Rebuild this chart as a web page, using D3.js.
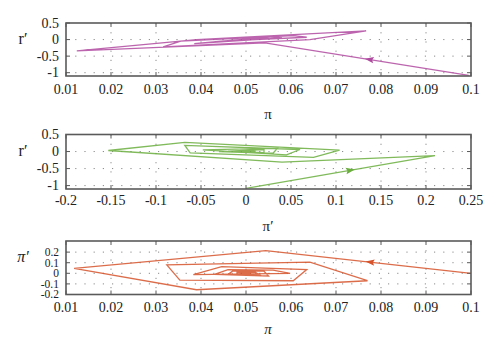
<!DOCTYPE html>
<html><head><meta charset="utf-8">
<script src="https://cdn.jsdelivr.net/npm/d3@7"></script>
<style>body{margin:0;background:#fff}svg{display:block}
text{font-family:"Liberation Serif","Times New Roman",Times,"DejaVu Serif",serif;fill:#222}</style>
</head><body>
<svg id="c" width="500" height="352"></svg>
<script>
// Panel 1: pi vs r'
const p1Pi = [0.0995,0.0542,0.0124,0.039,0.0767,0.0642,0.0316,0.0355,0.0605,0.0635,0.0446,0.0385,0.058,0.056,0.046,0.043,0.055,0.054,0.047,0.046,0.053,0.052,0.048,0.048,0.051,0.05];
const p1R  = [-1.08,-0.1,-0.34,0.0,0.26,0.0,-0.22,-0.05,0.12,0.07,-0.05,-0.12,0.05,0.08,-0.03,-0.06,0.04,0.05,-0.02,-0.03,0.02,0.02,-0.01,-0.01,0.0,0.0];
// Panel 2: pi' vs r'
const p2PiP = [0.0,0.21,0.04,-0.153,-0.068,0.104,0.075,-0.062,-0.068,0.06,0.045,-0.048,0.035,0.03,-0.03,0.02,0.02,-0.02,0.01,0.01,-0.01,0.005,0.0];
const p2R   = [-1.08,-0.12,-0.31,0.03,0.27,0.04,-0.17,-0.04,0.18,0.06,-0.1,0.05,0.1,-0.05,0.0,0.06,-0.03,0.01,0.03,-0.02,0.0,0.01,0.0];
// Panel 3: pi vs pi'
const p3Pi  = [0.1,0.0544,0.0118,0.039,0.077,0.0642,0.0324,0.0353,0.0605,0.0635,0.0446,0.0383,0.0598,0.056,0.046,0.043,0.055,0.054,0.047,0.046,0.053,0.052,0.048,0.048,0.051,0.05];
const p3PiP = [0.0,0.215,0.047,-0.155,-0.07,0.105,0.08,-0.064,-0.07,0.035,0.063,-0.012,0.0,0.03,0.035,-0.01,-0.025,0.02,0.02,-0.01,-0.015,0.01,0.01,-0.005,0.0,0.0];

const xTicks1 = [0.01,0.02,0.03,0.04,0.05,0.06,0.07,0.08,0.09,0.1];
const xTicks2 = [-0.2,-0.15,-0.1,-0.05,0,0.05,0.1,0.15,0.2,0.25];
const yTicksR = [0.5,0,-0.5,-1];
const yTicks3 = [0.2,0.1,0,-0.1,-0.2];

const svg = d3.select("#c");
const X0 = 66, X1 = 471;

const panels = [
  {xs:p1Pi, ys:p1R, xd:[0.01,0.1], yd:[-1.1,0.5], top:23, bot:76, xt:xTicks1, yt:yTicksR, yfs:14,
   color:"#b04aa0", xl:"π", xlItal:false, yl:"r′", ylItal:false, xlY:119, tickY:94, arrowF:0.486},
  {xs:p2PiP, ys:p2R, xd:[-0.2,0.25], yd:[-1.1,0.5], top:134.5, bot:189, xt:xTicks2, yt:yTicksR, yfs:14,
   color:"#6aae3e", xl:"π′", xlItal:false, yl:"r′", ylItal:false, xlY:231, tickY:205, arrowF:0.55},
  {xs:p3Pi, ys:p3PiP, xd:[0.01,0.1], yd:[-0.2,0.305], top:241, bot:294.5, xt:xTicks1, yt:yTicks3, yfs:11.5,
   color:"#d6532b", xl:"π", xlItal:true, yl:"π′", ylItal:true, xlY:334, tickY:312, arrowF:0.49}
];

const fmt = d => (Math.round(d*1000)/1000).toString();

panels.forEach(p => {
  const x = d3.scaleLinear().domain(p.xd).range([X0, X1]);
  const y = d3.scaleLinear().domain(p.yd).range([p.bot, p.top]);
  const g = svg.append("g");
  // grid
  g.selectAll(".gx").data(p.xt.slice(1, -1)).join("line")
    .attr("x1", d => x(d)).attr("x2", d => x(d)).attr("y1", p.top).attr("y2", p.bot)
    .attr("stroke", "#8a8a8a").attr("stroke-width", 1).attr("stroke-dasharray", "1.2,8");
  g.selectAll(".gy").data(p.yt.filter(v => y(v) > p.top + 1 && y(v) < p.bot - 1)).join("line")
    .attr("x1", X0).attr("x2", X1).attr("y1", d => y(d)).attr("y2", d => y(d))
    .attr("stroke", "#8a8a8a").attr("stroke-width", 1).attr("stroke-dasharray", "1.2,8");
  // curve
  const pts = p.xs.map((v, i) => [x(v), y(p.ys[i])]);
  g.append("path").attr("d", d3.line()(pts)).attr("fill", "none")
    .attr("stroke", p.color).attr("stroke-width", 1.3).attr("stroke-opacity", 0.85)
    .attr("stroke-linejoin", "miter");
  // arrow on first segment
  const a = pts[0], b = pts[1];
  const ax = a[0] + (b[0]-a[0]) * p.arrowF, ay = a[1] + (b[1]-a[1]) * p.arrowF;
  const ang = Math.atan2(b[1]-a[1], b[0]-a[0]) * 180 / Math.PI;
  g.append("path").attr("d", "M5,0L-4,-3.2L-2.5,0L-4,3.2Z")
    .attr("transform", `translate(${ax},${ay}) rotate(${ang})`).attr("fill", p.color);
  // frame
  g.append("rect").attr("x", X0).attr("y", p.top).attr("width", X1 - X0).attr("height", p.bot - p.top)
    .attr("fill", "none").attr("stroke", "#5a5a5a").attr("stroke-width", 1.6);
  // ticks
  p.xt.forEach(v => {
    g.append("line").attr("x1", x(v)).attr("x2", x(v)).attr("y1", p.bot).attr("y2", p.bot - 4).attr("stroke", "#5a5a5a");
    g.append("line").attr("x1", x(v)).attr("x2", x(v)).attr("y1", p.top).attr("y2", p.top + 4).attr("stroke", "#5a5a5a");
  });
  p.yt.forEach(v => {
    g.append("line").attr("x1", X0).attr("x2", X0 + 4).attr("y1", y(v)).attr("y2", y(v)).attr("stroke", "#5a5a5a");
    g.append("line").attr("x1", X1).attr("x2", X1 - 4).attr("y1", y(v)).attr("y2", y(v)).attr("stroke", "#5a5a5a");
  });
  // tick labels
  g.selectAll(".xl").data(p.xt).join("text")
    .attr("x", d => x(d)).attr("y", p.tickY).attr("text-anchor", "middle")
    .attr("font-size", 14)
    .text(fmt);
  g.selectAll(".yl").data(p.yt).join("text")
    .attr("x", 59).attr("y", d => y(d) + p.yfs * 0.33).attr("text-anchor", "end")
    .attr("font-size", p.yfs)
    .text(fmt);
  // axis labels
  g.append("text").attr("x", 268).attr("y", p.xlY).attr("text-anchor", "middle")
    .attr("font-size", 15)
    .attr("font-style", p.xlItal ? "italic" : "normal").text(p.xl);
  g.append("text").attr("x", 23).attr("y", (p.top + p.bot) / 2 - 6).attr("text-anchor", "middle")
    .attr("font-size", 16)
    .attr("font-style", p.ylItal ? "italic" : "normal").text(p.yl);
});
</script>
</body></html>
